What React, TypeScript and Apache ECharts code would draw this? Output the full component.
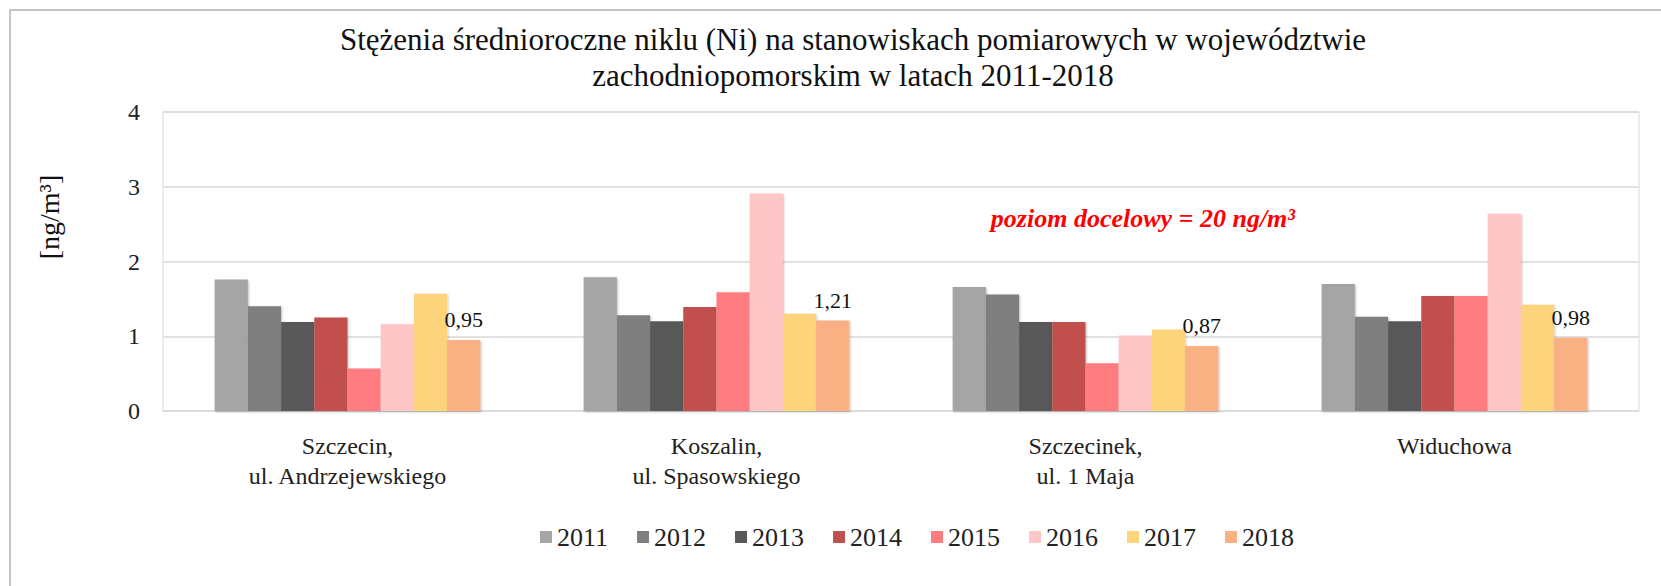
import React, { useEffect, useRef } from "react";
import * as echarts from "echarts";

const stations = [
  "Szczecin,\nul. Andrzejewskiego",
  "Koszalin,\nul. Spasowskiego",
  "Szczecinek,\nul. 1 Maja",
  "Widuchowa",
];
const years = ["2011", "2012", "2013", "2014", "2015", "2016", "2017", "2018"];
const v2011 = [1.76, 1.79, 1.66, 1.7];
const v2012 = [1.4, 1.28, 1.56, 1.26];
const v2013 = [1.19, 1.2, 1.19, 1.2];
const v2014 = [1.25, 1.39, 1.19, 1.54];
const v2015 = [0.57, 1.59, 0.64, 1.54];
const v2016 = [1.16, 2.91, 1.01, 2.64];
const v2017 = [1.57, 1.3, 1.09, 1.42];
const v2018 = [0.95, 1.21, 0.87, 0.98];
const seriesValues = [v2011, v2012, v2013, v2014, v2015, v2016, v2017, v2018];
const colors = ["#a5a5a5", "#7f7f7f", "#595959", "#c0504d", "#ff7c80", "#ffc6c8", "#fdd37c", "#f9b083"];
const yTicks = [0, 1, 2, 3, 4];
const labelledYear = "2018";

const FONT = "'Liberation Serif', 'Times New Roman', serif";

export default function App() {
  const ref = useRef<HTMLDivElement>(null);
  useEffect(() => {
    document.body.style.margin = "0";
    const chart = echarts.init(ref.current!, null, { renderer: "svg" });
    chart.setOption({
      animation: false,
      backgroundColor: "#ffffff",
      title: {
        text: "Stężenia średnioroczne niklu (Ni) na stanowiskach pomiarowych w województwie\nzachodniopomorskim w latach 2011-2018",
        left: 848,
        top: 16,
        textAlign: "center",
        textStyle: { fontFamily: FONT, fontSize: 31, fontWeight: "normal", color: "#111", lineHeight: 36 },
      },
      legend: {
        data: years,
        left: 535,
        top: 519,
        icon: "rect",
        itemWidth: 12,
        itemHeight: 12,
        itemGap: 29,
        textStyle: { fontFamily: FONT, fontSize: 26, color: "#222" },
      },
      grid: {
        left: 163,
        right: 22,
        top: 112,
        bottom: 175,
        show: true,
        borderColor: "#d9d9d9",
        borderWidth: 1,
      },
      xAxis: {
        type: "category",
        data: stations,
        axisLine: { lineStyle: { color: "#d9d9d9" } },
        axisTick: { show: false },
        axisLabel: {
          margin: 20,
          fontFamily: FONT,
          fontSize: 24,
          color: "#222",
          lineHeight: 30,
        },
      },
      yAxis: {
        type: "value",
        min: yTicks[0],
        max: yTicks[yTicks.length - 1],
        interval: 1,
        axisLine: { show: false },
        axisTick: { show: false },
        splitLine: { lineStyle: { color: "#d9d9d9", width: 1.5 } },
        axisLabel: { margin: 23, fontFamily: FONT, fontSize: 24, color: "#222" },
      },
      series: years.map((y, i) => ({
        name: y,
        type: "bar",
        data: seriesValues[i],
        barGap: "0%",
        barCategoryGap: "28%",
        itemStyle: {
          color: colors[i],
          shadowColor: "rgba(0,0,0,0.25)",
          shadowBlur: 2,
          shadowOffsetX: 1,
          shadowOffsetY: 1,
        },
        label:
          y === labelledYear
            ? {
                show: true,
                position: "top",
                distance: 9,
                fontFamily: FONT,
                fontSize: 22,
                color: "#111",
                formatter: (p: any) => String(p.value.toFixed(2)).replace(".", ","),
              }
            : { show: false },
      })),
      graphic: [
        {
          type: "rect",
          shape: { x: 10, y: 10, width: 1700, height: 700 },
          style: { fill: "none", stroke: "#c4c4c4", lineWidth: 2 },
          silent: true,
        },
        {
          type: "text",
          x: 49,
          y: 217,
          rotation: Math.PI / 2,
          style: {
            text: "[ng/m³]",
            fill: "#111",
            fontFamily: FONT,
            fontSize: 28,
            align: "center",
            verticalAlign: "middle",
          },
        },
        {
          type: "text",
          x: 1143,
          y: 218,
          style: {
            text: "poziom docelowy = 20 ng/m³",
            fill: "#ff0000",
            fontFamily: FONT,
            fontSize: 26,
            fontStyle: "italic",
            fontWeight: "bold",
            align: "center",
            verticalAlign: "middle",
          },
        },
      ],
    });
    return () => chart.dispose();
  }, []);
  return <div ref={ref} style={{ width: 1661, height: 586, position: "absolute", left: 0, top: 0 }} />;
}
